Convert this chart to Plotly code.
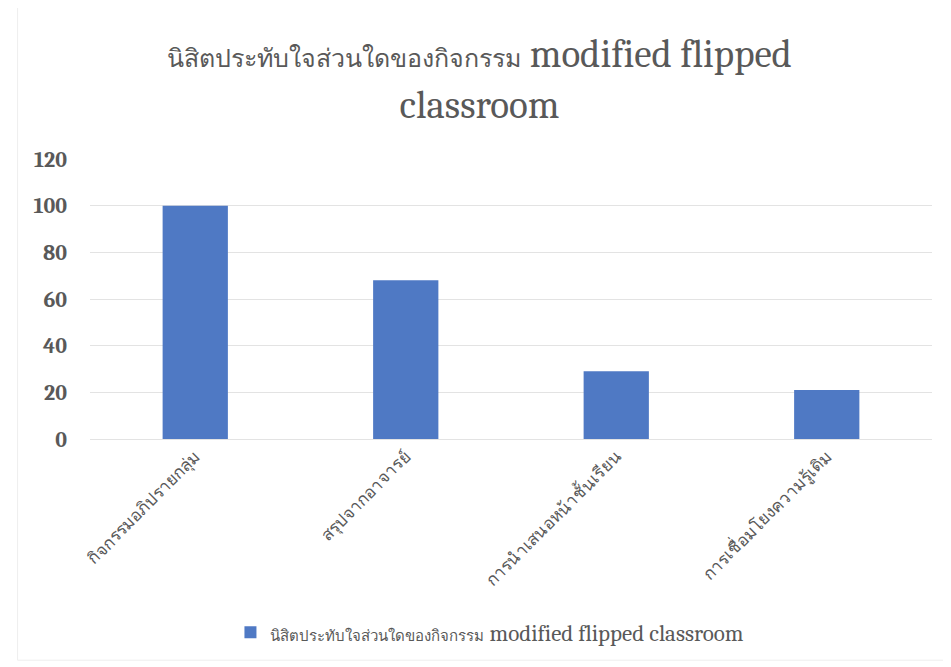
import plotly.graph_objects as go

categories = ["กิจกรรมอภิปรายกลุ่ม", "สรุปจากอาจารย์", "การนำเสนอหน้าชั้นเรียน", "การเชื่อมโยงความรู้เดิม"]
values = [100, 68, 29, 21]
series_thai = "นิสิตประทับใจส่วนใดของกิจกรรม"
series_en = "modified flipped classroom"
y_ticks = [0, 20, 40, 60, 80, 100, 120]

FONT = "Cambria, 'Liberation Serif', 'DejaVu Serif', serif"
GREY = "#595959"

title_text = (f"<span style='font-size:25px'>{series_thai}</span> modified flipped<br>classroom")
legend_name = f"<span style='font-size:15px'>{series_thai}</span> {series_en}"

fig = go.Figure()
fig.add_trace(go.Bar(
    x=categories, y=values, name=legend_name,
    marker=dict(color="#4f79c4", line=dict(width=0)),
    showlegend=True,
))

fig.update_layout(
    width=943, height=659,
    paper_bgcolor="white", plot_bgcolor="white",
    margin=dict(l=82, r=19, t=151, b=228),
    bargap=0.69,
    title=dict(text=title_text, x=0.5, xanchor="center", y=0.91, yanchor="top",
               font=dict(family=FONT, size=39, color=GREY)),
    font=dict(family=FONT, color=GREY),
    showlegend=True,
    legend=dict(orientation="h", x=0.475, xanchor="center", y=-0.69, yanchor="middle",
                font=dict(family=FONT, size=23, color=GREY), itemwidth=30),
    xaxis=dict(tickangle=-45, tickfont=dict(size=17, color=GREY), showgrid=False,
               showline=True, linecolor="#e3e3e3", linewidth=1, ticks="",
               automargin=False),
    yaxis=dict(range=[0, 120], tickvals=y_ticks, showgrid=True, gridcolor="#e3e3e3",
               zeroline=False, showline=False, ticks="", ticklabelstandoff=22,
               tickfont=dict(size=22, color=GREY, weight="bold"), automargin=False),
)
fig.add_shape(type="rect", xref="paper", yref="paper", x0=-0.086, x1=1.02, y0=-0.79, y1=1.68,
              line=dict(color="#eeeeee", width=1))
fig.write_html("out.html")
